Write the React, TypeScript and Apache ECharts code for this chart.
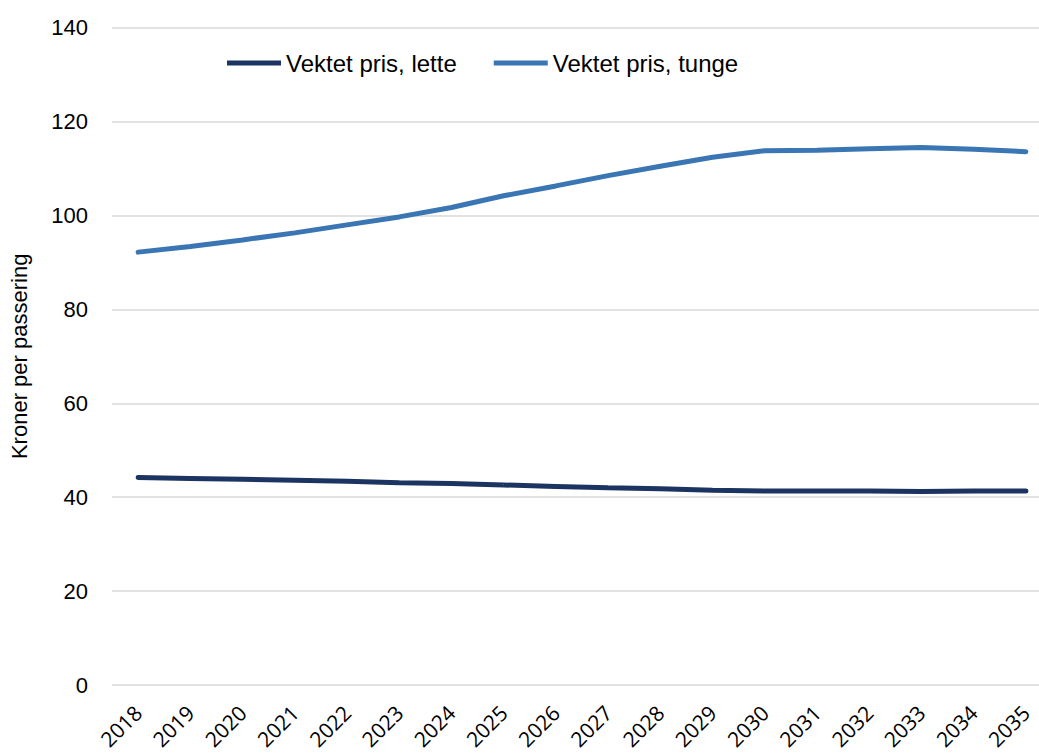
import React, { useEffect, useRef } from "react";
import * as echarts from "echarts";

const years = ["2018","2019","2020","2021","2022","2023","2024","2025","2026","2027","2028","2029","2030","2031","2032","2033","2034","2035"];
const lette = [44.2, 44.0, 43.8, 43.6, 43.4, 43.1, 42.9, 42.6, 42.3, 42.0, 41.8, 41.5, 41.3, 41.3, 41.3, 41.2, 41.3, 41.3];
const tunge = [92.2, 93.4, 94.8, 96.3, 98.0, 99.7, 101.7, 104.2, 106.3, 108.5, 110.5, 112.4, 113.8, 113.9, 114.2, 114.5, 114.1, 113.6];

export default function App() {
  const ref = useRef<HTMLDivElement>(null);
  useEffect(() => {
    const chart = echarts.init(ref.current!, null, { renderer: "svg" });
    chart.setOption({
      animation: false,
      backgroundColor: "#ffffff",
      grid: { left: 109, right: 0, top: 27.7, bottom: 71, containLabel: false },
      legend: {
        left: 222,
        top: 46,
        icon: "rect",
        itemWidth: 54,
        itemHeight: 5,
        itemGap: 37,
        textStyle: { fontFamily: "Liberation Sans, Arial", fontSize: 24, color: "#000" },
        data: ["Vektet pris, lette", "Vektet pris, tunge"],
      },
      xAxis: {
        type: "category",
        data: years,
        boundaryGap: true,
        axisLine: { show: false },
        axisTick: { show: false },
        axisLabel: {
          rotate: 45,
          margin: 24,
          fontFamily: "Open Sans",
          fontSize: 21,
          color: "#000",
          interval: 0,
        },
      },
      yAxis: {
        type: "value",
        min: 0,
        max: 140,
        interval: 20,
        name: "Kroner per passering",
        nameLocation: "middle",
        nameGap: 82,
        nameTextStyle: { fontFamily: "Liberation Sans, Arial", fontSize: 22, color: "#000" },
        axisLine: { show: false },
        axisTick: { show: false },
        splitLine: { lineStyle: { color: "#d9d9d9", width: 1.5 } },
        axisLabel: { margin: 24, fontFamily: "Liberation Sans, Arial", fontSize: 22, color: "#000" },
      },
      series: [
        {
          name: "Vektet pris, lette",
          type: "line",
          data: lette,
          symbol: "none",
          lineStyle: { color: "#1b3461", width: 5, cap: "round" },
          itemStyle: { color: "#1b3461" },
        },
        {
          name: "Vektet pris, tunge",
          type: "line",
          data: tunge,
          symbol: "none",
          lineStyle: { color: "#3a75b4", width: 5, cap: "round" },
          itemStyle: { color: "#3a75b4" },
        },
      ],
    });
    return () => chart.dispose();
  }, []);
  return (
    <div style={{ position: "fixed", left: 0, top: 0, width: 1039, height: 756, overflow: "hidden", background: "#fff" }}>
      <div ref={ref} style={{ width: 1052, height: 756 }} />
    </div>
  );
}
